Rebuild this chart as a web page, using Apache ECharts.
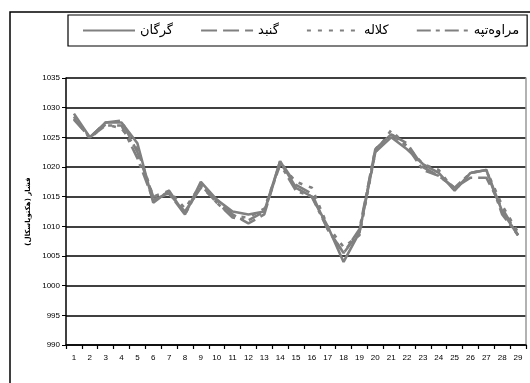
<!DOCTYPE html>
<html><head><meta charset="utf-8">
<script src="https://cdn.jsdelivr.net/npm/echarts@6/dist/echarts.min.js"></script>
<style>html,body{margin:0;padding:0;background:#fff}#c{width:530px;height:383px}</style>
</head><body><div id="c"></div>
<script>
const days = ['1','2','3','4','5','6','7','8','9','10','11','12','13','14','15','16','17','18','19','20','21','22','23','24','25','26','27','28','29'];
const seriesNames = ['گرگان','گنبد','کلاله','مراوه‌تپه'];
const gorgan  = [1029,1025,1027.5,1027.5,1024,1014,1016,1012,1017.5,1014.5,1012.5,1012,1012.5,1021,1016.5,1015,1010,1004,1009,1022.5,1025,1023,1020.5,1019,1016,1019,1019.5,1012.5,1008.5];
const gonbad  = [1028,1025,1027.5,1027.8,1022.5,1015,1015.5,1012.5,1016.5,1014.5,1012,1010.5,1012,1021,1017,1015.5,1009.5,1005.5,1009,1023,1025.5,1024,1020,1018.5,1016.5,1018.2,1018.2,1013,1008.5];
const kalaleh = [1028.5,1024.8,1027.2,1026.5,1023,1015,1016,1013,1017,1014,1011.7,1011.5,1013,1020.5,1017.5,1016.5,1010,1006.5,1008.5,1022.5,1026.2,1023.5,1020.5,1019.5,1016,1019,1019.5,1013.5,1009];
const maraveh = [1028.2,1025,1027,1027,1021.5,1014.5,1015.5,1012,1017,1014,1011.5,1011,1012.5,1020.5,1016,1015,1009.5,1005.5,1009.5,1023,1025.5,1023.5,1019.5,1018.5,1016.5,1019,1019.5,1012,1008.5];
const yTicks = {min:990, max:1035, interval:5};
const yName = 'فشار (هکتوپاسکال)';

const gray = '#808080';
const dashes = ['solid', [16,6], [4,7], [14,5,4,5]];
const data = [gorgan, gonbad, kalaleh, maraveh];
const chart = echarts.init(document.getElementById('c'));
chart.setOption({
  animation:false,
  textStyle:{fontFamily:'Liberation Sans, Arial, DejaVu Sans, sans-serif'},
  graphic:[{type:'rect',shape:{x:10,y:12,width:560,height:400},style:{fill:null,stroke:'#000',lineWidth:1.5},z:-1}],
  legend:{
    left:68, top:15, width:457, height:32,
    padding:[9,8,9,14],
    borderColor:'#000', borderWidth:1.2,
    itemWidth:52, itemHeight:12, itemGap:27,
    itemStyle:{opacity:0},
    data:seriesNames,
    textStyle:{fontSize:13,color:'#000',fontFamily:'DejaVu Sans, Liberation Sans, sans-serif'}
  },
  grid:{left:66,right:4,top:78,bottom:38},
  xAxis:{type:'category',data:days,boundaryGap:true,
    axisLine:{lineStyle:{color:'#000',width:1.5}},
    axisTick:{show:true,length:4,lineStyle:{color:'#000',width:1.2}},
    axisLabel:{fontSize:8,color:'#000',margin:9}},
  yAxis:[{type:'value',min:yTicks.min,max:yTicks.max,interval:yTicks.interval,
    name:yName,nameLocation:'middle',nameGap:32,nameRotate:90,
    nameTextStyle:{fontSize:7,fontWeight:'bold',color:'#000',fontFamily:'DejaVu Sans, sans-serif'},
    axisLine:{show:true,lineStyle:{color:'#000',width:1.5}},
    axisTick:{show:true,length:4,lineStyle:{color:'#000'}},
    axisLabel:{fontSize:8,color:'#000',margin:6,formatter:v=>String(v)},
    splitLine:{lineStyle:{color:'#000',width:1.5}}},
   {type:'value',min:yTicks.min,max:yTicks.max,interval:yTicks.interval,position:'right',
    axisLine:{show:true,lineStyle:{color:'#999',width:1.5}},axisTick:{show:false},axisLabel:{show:false},splitLine:{show:false}}],
  series: seriesNames.map((n,i)=>({
    name:n,type:'line',data:data[i],symbol:'none',
    lineStyle:{color:gray,width:2.6,type:dashes[i]},
    itemStyle:{color:gray}
  }))
});
</script></body></html>
